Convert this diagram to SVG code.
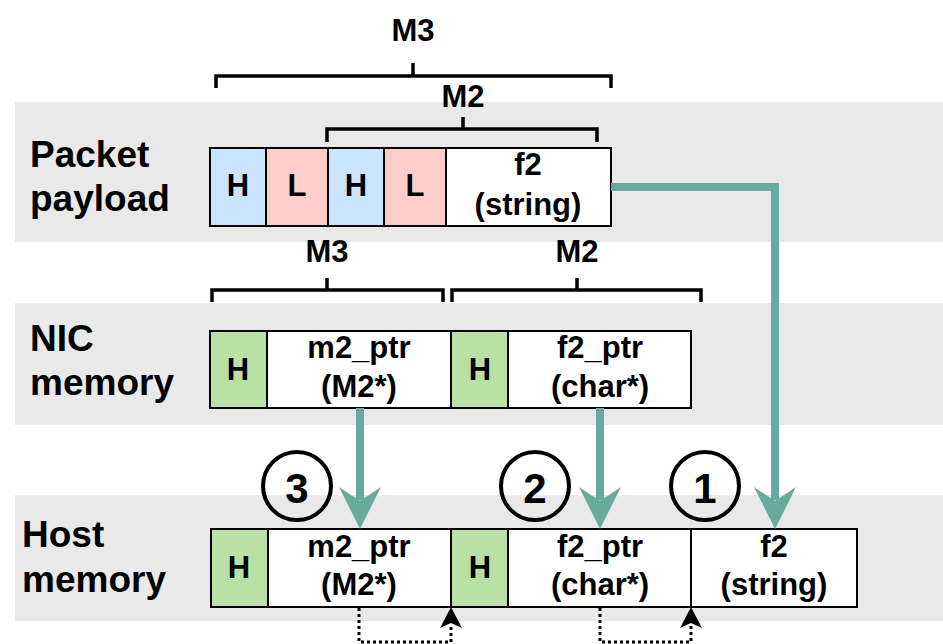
<svg xmlns="http://www.w3.org/2000/svg" width="943" height="644" viewBox="0 0 943 644">
<style>
text{font-family:"Liberation Sans",Arial,sans-serif;font-weight:bold;fill:#000}
.lbl{font-size:37px}
.t{font-size:31px;text-anchor:middle}
.num{font-size:42px;text-anchor:middle}
.band{fill:#e9e9e9}
.box{stroke:#000;stroke-width:2}
.w{fill:#fff}.b{fill:#cce5ff}.r{fill:#ffcccc}.g{fill:#b9e0a5}
.br{fill:none;stroke:#000;stroke-width:3.5}
.ga{fill:none;stroke:#67ab9f;stroke-width:8}
.gh{fill:#67ab9f}
.dot{fill:none;stroke:#000;stroke-width:3;stroke-dasharray:3 3}
.circ{fill:none;stroke:#000;stroke-width:4}
</style>
<g id="bands">
<rect class="band" x="15" y="102" width="928" height="140"/>
<rect class="band" x="15" y="303" width="928" height="122"/>
<rect class="band" x="15" y="495" width="928" height="126"/>
</g>
<g id="labels">
<text class="lbl" x="30" y="167">Packet</text>
<text class="lbl" x="30" y="211">payload</text>
<text class="lbl" x="30" y="351">NIC</text>
<text class="lbl" x="30" y="395">memory</text>
<text class="lbl" x="22" y="547">Host</text>
<text class="lbl" x="22" y="592">memory</text>
</g>
<g id="brackets">
<path class="br" d="M216,88 V76 H611 V88 M413,76 V63"/>
<text class="t" x="413" y="41">M3</text>
<path class="br" d="M327,142 V129 H597 V142 M463,129 V117"/>
<text class="t" x="463" y="107">M2</text>
<path class="br" d="M212,302 V290 H443 V302 M327,290 V278"/>
<text class="t" x="327" y="262">M3</text>
<path class="br" d="M452,302 V290 H701 V302 M577,290 V278"/>
<text class="t" x="577" y="262">M2</text>
</g>
<g id="payload">
<rect class="box b" x="210" y="148" width="56" height="78"/>
<rect class="box r" x="266" y="148" width="62" height="78"/>
<rect class="box b" x="328" y="148" width="56" height="78"/>
<rect class="box r" x="384" y="148" width="62" height="78"/>
<rect class="box w" x="446" y="148" width="165" height="78"/>
<text class="t" x="238" y="196">H</text>
<text class="t" x="297" y="196">L</text>
<text class="t" x="356" y="196">H</text>
<text class="t" x="415" y="196">L</text>
<text class="t" x="528" y="175">f2</text>
<text class="t" x="528" y="215">(string)</text>
</g>
<g id="nic">
<rect class="box g" x="210" y="331" width="57" height="77"/>
<rect class="box w" x="267" y="331" width="184" height="77"/>
<rect class="box g" x="451" y="331" width="57" height="77"/>
<rect class="box w" x="508" y="331" width="183" height="77"/>
<text class="t" x="238" y="380">H</text>
<text class="t" x="359" y="358">m2_ptr</text>
<text class="t" x="359" y="397">(M2*)</text>
<text class="t" x="480" y="380">H</text>
<text class="t" x="600" y="358">f2_ptr</text>
<text class="t" x="600" y="397">(char*)</text>
</g>
<g id="host">
<rect class="box g" x="211" y="529" width="57" height="78"/>
<rect class="box w" x="268" y="529" width="183" height="78"/>
<rect class="box g" x="451" y="529" width="57" height="78"/>
<rect class="box w" x="508" y="529" width="183" height="78"/>
<rect class="box w" x="691" y="529" width="166" height="78"/>
<text class="t" x="239" y="578">H</text>
<text class="t" x="359" y="557">m2_ptr</text>
<text class="t" x="359" y="595">(M2*)</text>
<text class="t" x="480" y="578">H</text>
<text class="t" x="600" y="557">f2_ptr</text>
<text class="t" x="600" y="595">(char*)</text>
<text class="t" x="774" y="557">f2</text>
<text class="t" x="774" y="595">(string)</text>
</g>
<g id="steps">
<circle class="circ" cx="297" cy="486" r="34"/>
<text class="num" x="297" y="503">3</text>
<circle class="circ" cx="535" cy="486" r="34"/>
<text class="num" x="535" y="503">2</text>
<circle class="circ" cx="705" cy="486" r="34"/>
<text class="num" x="705" y="503">1</text>
</g>
<g id="connectors">
<path class="ga" d="M360,408 V500"/>
<polygon class="gh" points="360,529 339,487 360,501 381,487"/>
<path class="ga" d="M600,408 V500"/>
<polygon class="gh" points="600,529 579,487 600,501 621,487"/>
<path class="ga" d="M611,187 H775 V500"/>
<polygon class="gh" points="775,529 754,487 775,501 796,487"/>
<path class="dot" d="M359,608 V642 H451 V624"/>
<polygon points="451,607 440,628 451,623 462,628" fill="#000"/>
<path class="dot" d="M600,608 V642 H691 V624"/>
<polygon points="691,607 680,628 691,623 702,628" fill="#000"/>
</g>
</svg>
